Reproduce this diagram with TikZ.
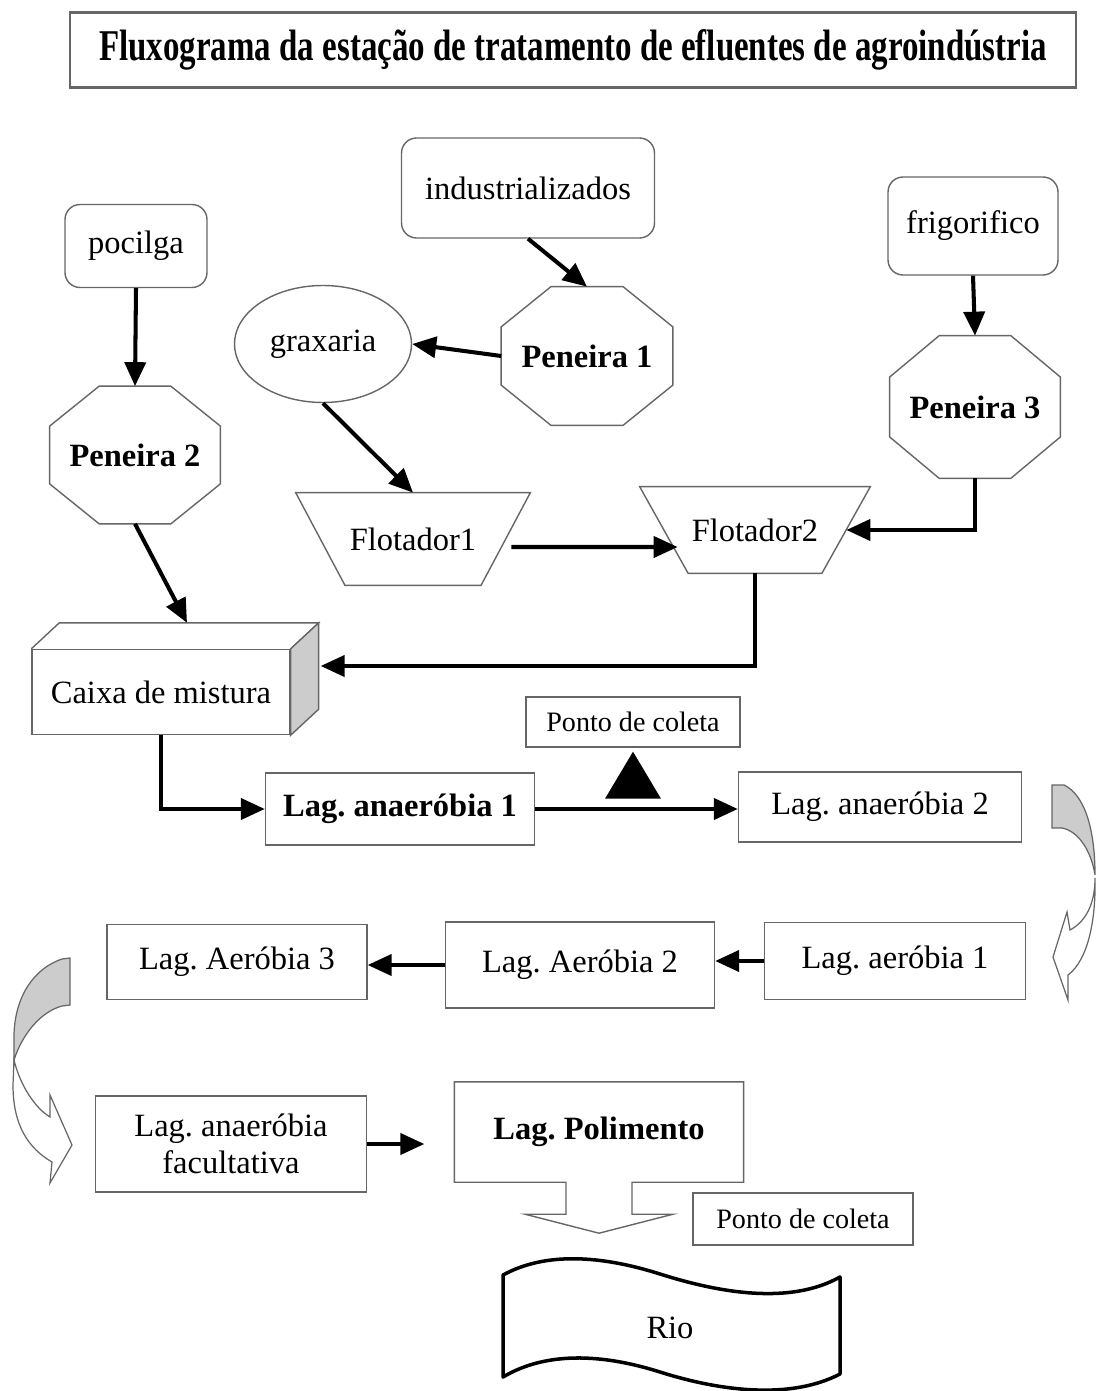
\documentclass[tikz,border=0pt]{standalone}
\usepackage{fontspec}
\setmainfont{Liberation Serif}
\newfontfamily\titlefont[FakeStretch=0.75]{Liberation Serif}
\usetikzlibrary{shapes.geometric,arrows.meta,calc}
\frenchspacing

\definecolor{framegray}{gray}{0.4}
\definecolor{facegray}{gray}{0.8}

\tikzset{
  box/.style={draw=framegray, line width=0.8pt, align=center, inner sep=2pt,
    font=\fontsize{18.5}{21}\selectfont},
  source/.style={box, rounded corners=0.3cm},
  sieve/.style={align=center, font=\fontsize{18.5}{21}\selectfont\bfseries},
  floater/.style={align=center, font=\fontsize{18.5}{21}\selectfont},
  tag/.style={box, font=\fontsize{16}{19}\selectfont},
  flow/.style={-{Triangle[length=0.48cm,width=0.42cm]}, line width=2.3pt},
  turnarrow/.style={draw=framegray, line width=0.7pt},
}

% octagon drawn over a rectangular node
\newcommand{\sieveframe}[1]{%
  \draw[draw=framegray, line width=0.8pt]
    ($(#1.north west)!0.29!(#1.north east)$) -- ($(#1.north west)!0.71!(#1.north east)$)
    -- ($(#1.north east)!0.29!(#1.south east)$) -- ($(#1.north east)!0.71!(#1.south east)$)
    -- ($(#1.south east)!0.29!(#1.south west)$) -- ($(#1.south east)!0.71!(#1.south west)$)
    -- ($(#1.south west)!0.29!(#1.north west)$) -- ($(#1.south west)!0.71!(#1.north west)$)
    -- cycle;}
% upside-down trapezium over a rectangular node
\newcommand{\floatframe}[1]{%
  \draw[draw=framegray, line width=0.8pt]
    (#1.north west) -- (#1.north east)
    -- ($(#1.south east)!0.21!(#1.south west)$) -- ($(#1.south west)!0.21!(#1.south east)$)
    -- cycle;}

\begin{document}
\begin{tikzpicture}[x=0.02cm, y=-0.02cm]
  \useasboundingbox (0,0) rectangle (1097,1391);

  % Title
  \node[box, line width=1.2pt, minimum width=20.14cm, minimum height=1.5cm,
    font=\titlefont\fontsize{25}{28}\selectfont\bfseries] (title) at (573,50)
    {Fluxograma da estação de tratamento de efluentes de agroindústria};

  % Sources
  \node[source, minimum width=5.06cm, minimum height=2cm] (ind) at (528,188) {industrializados};
  \node[source, minimum width=2.84cm, minimum height=1.66cm] (poc) at (136,246) {pocilga};
  \node[source, minimum width=3.4cm, minimum height=1.96cm] (fri) at (973,226) {frigorifico};
  \node[box, ellipse, minimum width=3.54cm, minimum height=2.34cm] (grax) at (323,344) {graxaria};

  % Sieves
  \node[sieve, minimum width=3.42cm, minimum height=2.76cm] (pen1) at (587,356) {Peneira 1};
  \node[sieve, minimum width=3.4cm, minimum height=2.74cm] (pen2) at (135,455) {Peneira 2};
  \node[sieve, minimum width=3.4cm, minimum height=2.84cm] (pen3) at (975,407) {Peneira 3};
  \sieveframe{pen1}
  \sieveframe{pen2}
  \sieveframe{pen3}

  % Floaters
  \node[floater, minimum width=4.68cm, minimum height=1.84cm] (flot1) at (413,539) {Flotador1};
  \node[floater, minimum width=4.6cm, minimum height=1.72cm] (flot2) at (755,530) {Flotador2};
  \floatframe{flot1}
  \floatframe{flot2}

  % Mixing box
  \node[box, minimum width=5.16cm, minimum height=1.7cm] (caixa) at (161,692) {Caixa de mistura};
  \draw[draw=framegray, line width=0.8pt] (caixa.north west) -- ++(28,-26)
    -- ($(caixa.north east)+(28,-26)$) -- (caixa.north east);
  \filldraw[fill=facegray, draw=framegray, line width=0.8pt] (caixa.north east) -- ++(28,-26)
    -- ($(caixa.south east)+(28,-26)$) -- (caixa.south east) -- cycle;
  \coordinate (caixatop) at ($(caixa.north)+(26,-26)$);
  \coordinate (caixaback) at ($(caixa.east)+(30,-26)$);

  % Lagoons
  \node[box, minimum width=5.38cm, minimum height=1.44cm, font=\fontsize{18.5}{21}\selectfont\bfseries]
    (lan1) at (400,809) {Lag. anaeróbia 1};
  \node[tag, minimum width=4.28cm, minimum height=1cm] (pc1) at (633,722) {Ponto de coleta};
  \fill ($(pc1.south)+(0,4)$) -- ++(28,47) -- ++(-56,0) -- cycle;
  \node[box, minimum width=5.66cm, minimum height=1.4cm] (lan2) at (880,807) {Lag. anaeróbia 2};
  \node[box, minimum width=5.22cm, minimum height=1.54cm] (lae1) at (895,961) {Lag. aeróbia 1};
  \node[box, minimum width=5.38cm, minimum height=1.72cm] (lae2) at (580,965) {Lag. Aeróbia 2};
  \node[box, minimum width=5.2cm, minimum height=1.5cm] (lae3) at (237,962) {Lag. Aeróbia 3};
  \node[box, minimum width=5.42cm, minimum height=1.92cm] (lfac) at (231,1144)
    {Lag. anaeróbia\\facultativa};
  \node[box, draw=none, minimum width=5.76cm, minimum height=1.98cm,
    font=\fontsize{18.5}{21}\selectfont\bfseries] (lpol) at (599,1132) {Lag. Polimento};
  \draw[draw=framegray, line width=0.8pt] (lpol.south west) -- (lpol.north west)
    -- (lpol.north east) -- (lpol.south east) -- ($(lpol.south)+(33,0)$) -- ++(0,32)
    -- ++(41,0) -- ($(lpol.south)+(0,51)$) -- ($(lpol.south)+(-74,32)$) -- ++(41,0)
    -- ++(0,-32) -- cycle;
  \node[tag, minimum width=4.4cm, minimum height=1.04cm] (pc2) at (803,1219) {Ponto de coleta};

  % River
  \node[font=\fontsize{18.5}{21}\selectfont] (rio) at (670,1328) {Rio};
  \draw[line width=2pt, line join=round] (503,1275) .. controls (545,1252) and (600,1255) .. (660,1274)
    .. controls (720,1293) and (790,1305) .. (840,1277) -- (840,1374)
    .. controls (790,1400) and (720,1391) .. (660,1372)
    .. controls (600,1353) and (545,1352) .. (503,1377) -- cycle;

  % Curved arrows
  \filldraw[turnarrow, fill=facegray] (1052,785) -- (1064,785) .. controls (1085,795) and (1095,830) .. (1095,875)
    .. controls (1091,850) and (1078,831) .. (1062,828) -- (1052,828) -- cycle;
  \filldraw[turnarrow, fill=white] (1095,878) .. controls (1095,905) and (1085,922) .. (1070,930)
    -- (1067,912) -- (1053,957) -- (1068,1000) -- (1068,975)
    .. controls (1088,960) and (1096,920) .. (1095,878) -- cycle;
  \filldraw[turnarrow, fill=facegray] (70,958) -- (62,959) .. controls (35,968) and (15,995) .. (14,1035)
    -- (14,1060) .. controls (22,1035) and (40,1012) .. (62,1006) -- (70,1005) -- cycle;
  \filldraw[turnarrow, fill=white] (14,1060) .. controls (20,1085) and (35,1108) .. (50,1117)
    -- (50,1095) -- (72,1145) -- (50,1183) -- (52,1162)
    .. controls (28,1148) and (13,1125) .. (13,1085) -- cycle;

  % Connectors
  \draw[flow] (ind.south) -- (pen1.north);
  \draw[flow] (pen1.west) -- (grax.east);
  \draw[flow] (grax.south) -- (flot1.north);
  \draw[flow] (poc.south) -- (pen2.north);
  \draw[flow] (pen2.south) -- (caixatop);
  \draw[flow] (fri.south) -- (pen3.north);
  \draw[flow] (pen3.south) |- ([xshift=-0.48cm]flot2.east);
  \draw[flow] ([xshift=-0.38cm,yshift=-0.16cm]flot1.east) -- ([xshift=0.76cm,yshift=-0.34cm]flot2.west);
  \draw[flow] (flot2.south) |- (caixaback);
  \draw[flow] (caixa.south) |- (lan1.west);
  \draw[flow] (lan1.east) -- (lan1.east -| lan2.west);
  \draw[flow] (lae1.west) -- (lae1.west -| lae2.east);
  \draw[flow] (lae2.west) -- (lae2.west -| lae3.east);
  \draw[flow, shorten >=0.6cm] (lfac.east) -- (lfac.east -| lpol.west);
\end{tikzpicture}
\end{document}
